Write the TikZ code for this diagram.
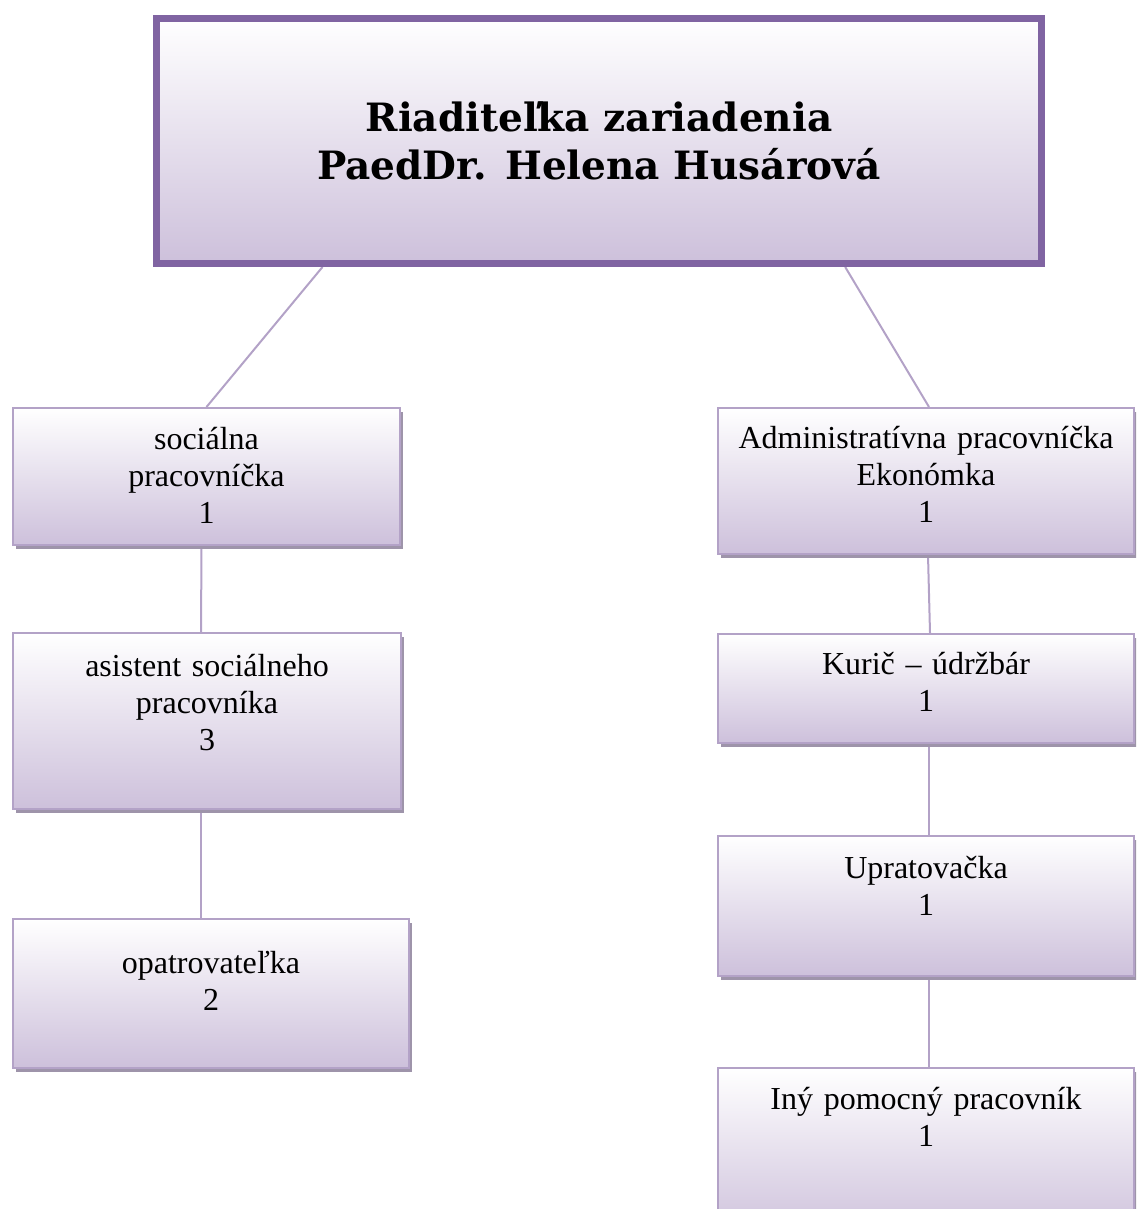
\documentclass[tikz,border=0pt]{standalone}
\usepackage{fontspec}
\setmainfont{Liberation Serif}
\newfontfamily\headfont{DejaVu Serif}
\usetikzlibrary{calc,shadows}
\pgfdeclarelayer{background}
\pgfsetlayers{background,main}

\definecolor{headline}{RGB}{128,100,162}
\definecolor{boxline}{RGB}{179,162,199}
\definecolor{boxfill}{RGB}{205,192,219}
\definecolor{boxshade}{RGB}{158,148,170}

\begin{document}
\begin{tikzpicture}[x=1pt,y=-1pt]
    \tikzset{LK/.style={draw=boxline,line width=2pt}}
    \tikzset{UB/.style={draw=boxline,line width=2pt,top color=white,bottom color=boxfill,
        drop shadow={shadow xshift=3pt,shadow yshift=-4pt,fill=boxshade,opacity=1},
        anchor=north west,inner sep=0pt,align=center,font=\fontsize{32}{37}\selectfont}}
    \tikzset{HB/.style={draw=headline,line width=7pt,top color=white,bottom color=boxfill,
        drop shadow={shadow xshift=3pt,shadow yshift=-3pt,fill=black!30,opacity=1},
        anchor=north west,inner sep=0pt,align=center,font=\headfont\bfseries\fontsize{39}{48}\selectfont}}

    \useasboundingbox (0,0) rectangle (1136,1209);
    \clip (0,0) rectangle (1136,1209);

    \node (dir) [HB,minimum width=885pt,minimum height=245pt] at (153,15)
        {Riaditeľka zariadenia\\PaedDr. Helena Husárová};
    	\node (soc) [UB,text width=387pt,text height=41pt,text depth=96pt] at (12,407)
    	    {sociálna\\pracovníčka\\1};
    		\node (asi) [UB,text width=388pt,text height=43pt,text depth=133pt] at (12,632)
    		    {asistent sociálneho\\pracovníka\\3};
    			\node (opa) [UB,text width=396pt,text height=54pt,text depth=95pt] at (12,918)
    			    {opatrovateľka\\2};
    	\node (adm) [UB,text width=416pt,text height=40pt,text depth=106pt] at (717,407)
    	    {Administratívna pracovníčka\\Ekonómka\\1};
    		\node (kur) [UB,text width=416pt,text height=40pt,text depth=69pt] at (717,633)
    		    {Kurič – údržbár\\1};
    			\node (upr) [UB,text width=416pt,text height=42pt,text depth=98pt] at (717,835)
    			    {Upratovačka\\1};
    				\node (iny) [UB,text width=416pt,text height=41pt,text depth=130pt] at (717,1067)
    				    {Iný pomocný pracovník\\1};

    \begin{pgfonlayer}{background}
    	\path[LK] ($(dir.south west)!0.19!(dir.south east)$) -- (soc.north);
    		\path[LK] ([xshift=-5pt]soc.south) -- ([xshift=-6pt]asi.north);
    			\path[LK] ([xshift=-6pt]asi.south) -- ([xshift=-10pt]opa.north);
    	\path[LK] ($(dir.south west)!0.776!(dir.south east)$) -- ([xshift=3pt]adm.north);
    		\path[LK] ([xshift=2pt]adm.south) -- ([xshift=4pt]kur.north);
    			\path[LK] ([xshift=3pt]kur.south) -- ([xshift=3pt]upr.north);
    				\path[LK] ([xshift=3pt]upr.south) -- ([xshift=3pt]iny.north);
    \end{pgfonlayer}
\end{tikzpicture}
\end{document}
